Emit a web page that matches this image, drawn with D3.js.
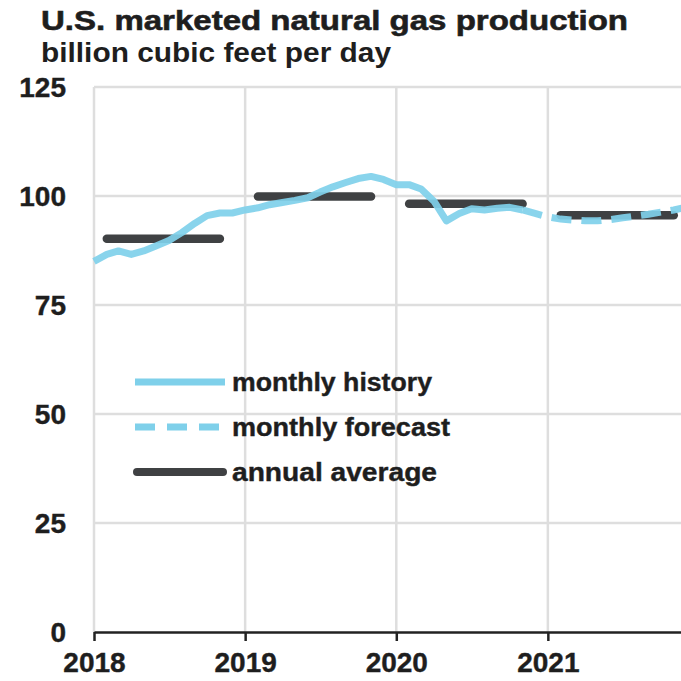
<!DOCTYPE html>
<html><head><meta charset="utf-8">
<script src="https://cdn.jsdelivr.net/npm/d3@7"></script>
<style>body{margin:0;background:#fff}svg{display:block}</style>
</head><body>
<svg id="c" width="681" height="681"></svg>
<script>
// ---- data ----
const historyMonths = ["2018-01","2018-02","2018-03","2018-04","2018-05","2018-06","2018-07","2018-08","2018-09","2018-10","2018-11","2018-12",
"2019-01","2019-02","2019-03","2019-04","2019-05","2019-06","2019-07","2019-08","2019-09","2019-10","2019-11","2019-12",
"2020-01","2020-02","2020-03","2020-04","2020-05","2020-06","2020-07","2020-08","2020-09","2020-10","2020-11"];
const historyValues = [85.0,86.6,87.4,86.6,87.4,88.6,89.8,91.6,93.7,95.5,96.1,96.1,
96.8,97.3,98.0,98.5,99.0,99.6,100.9,102.1,103.1,104.0,104.5,103.8,
102.6,102.6,101.6,98.8,94.3,96.0,97.1,96.8,97.2,97.4,96.8];
const forecastMonths = ["2020-11","2020-12","2021-01","2021-02","2021-03","2021-04","2021-05","2021-06","2021-07","2021-08","2021-09","2021-10","2021-11","2021-12"];
const forecastValues = [96.8,96.0,95.2,94.7,94.5,94.3,94.3,94.6,95.0,95.4,95.8,96.3,96.8,97.4];
const avgYears = [2018,2019,2020,2021];
const avgValues = [90.2,99.9,98.2,95.6];
const yTicks = [0,25,50,75,100,125];
const xTickYears = [2018,2019,2020,2021];
const legendLabels = ["monthly history","monthly forecast","annual average"];
const titleText = "U.S. marketed natural gas production";
const subtitleText = "billion cubic feet per day";

// ---- layout ----
const svg = d3.select("#c");
const L = 94, R = 699, T = 87, B = 632;
const parse = d3.timeParse("%Y-%m");
const x = d3.scaleTime().domain([new Date(2018,0,1), new Date(2022,0,1)]).range([L, R]);
const y = d3.scaleLinear().domain([0,125]).range([B, T]);
const font = "'Liberation Sans', Arial, sans-serif";
const blue = "#7fd0ea", dark = "#3f4143", grid = "#dedede", ink = "#1e1e1e";

// gridlines
svg.append("g").selectAll("line").data(yTicks.filter(d=>d>0)).join("line")
  .attr("x1", L).attr("x2", 681).attr("y1", d=>y(d)).attr("y2", d=>y(d))
  .attr("stroke", grid).attr("stroke-width", 2.5);
svg.append("g").selectAll("line").data(xTickYears).join("line")
  .attr("x1", d=>x(new Date(d,0,1))).attr("x2", d=>x(new Date(d,0,1)))
  .attr("y1", T).attr("y2", B).attr("stroke", grid).attr("stroke-width", 2.5);

// y axis labels
const yAxis = d3.axisLeft(y).tickValues(yTicks).tickSize(0).tickPadding(0);
const gy = svg.append("g").attr("transform", `translate(66,0)`).call(yAxis);
gy.select(".domain").remove();
gy.selectAll("text").attr("font-family", font).attr("font-weight", "bold")
  .attr("font-size", 28).attr("fill", ink).attr("dy", "0.35em")
  .attr("stroke", ink).attr("stroke-width", 0.4);

// x axis
const xAxis = d3.axisBottom(x).tickValues(xTickYears.map(d=>new Date(d,0,1)))
  .tickFormat(d3.timeFormat("%Y")).tickSize(9).tickSizeOuter(0).tickPadding(11);
const gx = svg.append("g").attr("transform", `translate(0,${B})`).call(xAxis);
gx.select(".domain").attr("stroke", "#222").attr("stroke-width", 2.5);
gx.selectAll(".tick line").attr("stroke", "#222").attr("stroke-width", 2.5);
gx.selectAll("text").attr("font-family", font).attr("font-weight", "bold")
  .attr("font-size", 28).attr("fill", ink).attr("stroke", ink).attr("stroke-width", 0.4);

// annual averages
const avgG = svg.append("g");
avgG.selectAll("line").data(avgYears.map((yr,i)=>({yr, v:avgValues[i]}))).join("line")
  .attr("x1", d=>x(new Date(d.yr,1,1))).attr("x2", d=>x(new Date(d.yr,10,1)))
  .attr("y1", d=>y(d.v)).attr("y2", d=>y(d.v))
  .attr("stroke", dark).attr("stroke-width", 8.5).attr("stroke-linecap", "round");

// monthly lines
const line = d3.line().x(d=>x(d.date)).y(d=>y(d.v));
const hist = historyMonths.map((m,i)=>({date: parse(m), v: historyValues[i]}));
const fc = forecastMonths.map((m,i)=>({date: parse(m), v: forecastValues[i]}));
svg.append("path").datum(hist).attr("d", line).attr("fill","none")
  .attr("stroke", blue).attr("stroke-width", 7).attr("stroke-linejoin","round").attr("opacity",0.92);
svg.append("path").datum(fc).attr("d", line).attr("fill","none")
  .attr("stroke", blue).attr("stroke-width", 7).attr("stroke-dasharray","20 10").attr("opacity",0.92);

// legend
const lg = svg.append("g");
const lgY = [382, 427, 472];
const lgW = [200, 218, 205];
lg.append("line").attr("x1",135).attr("x2",225).attr("y1",lgY[0]).attr("y2",lgY[0])
  .attr("stroke", blue).attr("stroke-width", 7);
lg.append("line").attr("x1",135).attr("x2",225).attr("y1",lgY[1]).attr("y2",lgY[1])
  .attr("stroke", blue).attr("stroke-width", 7).attr("stroke-dasharray","20 12");
lg.append("line").attr("x1",137).attr("x2",223).attr("y1",lgY[2]).attr("y2",lgY[2])
  .attr("stroke", dark).attr("stroke-width", 8).attr("stroke-linecap","round");
lg.selectAll("text").data(legendLabels).join("text")
  .attr("x", 232).attr("y", (d,i)=>lgY[i]).attr("dy","0.35em")
  .attr("font-family", font).attr("font-weight","bold").attr("font-size", 25)
  .attr("textLength", (d,i)=>lgW[i]).attr("lengthAdjust","spacingAndGlyphs")
  .attr("fill", ink).attr("stroke", ink).attr("stroke-width", 0.4).text(d=>d);

// titles
svg.append("text").attr("x", 41).attr("y", 30).attr("font-family", font)
  .attr("font-weight","bold").attr("font-size", 28).attr("fill",ink)
  .attr("stroke", ink).attr("stroke-width", 0.6)
  .attr("textLength", 587).attr("lengthAdjust","spacingAndGlyphs").text(titleText);
svg.append("text").attr("x", 41).attr("y", 62).attr("font-family", font)
  .attr("font-weight","bold").attr("font-size", 28).attr("fill",ink)
  .attr("textLength", 350).attr("lengthAdjust","spacingAndGlyphs").text(subtitleText);
</script>
</body></html>
